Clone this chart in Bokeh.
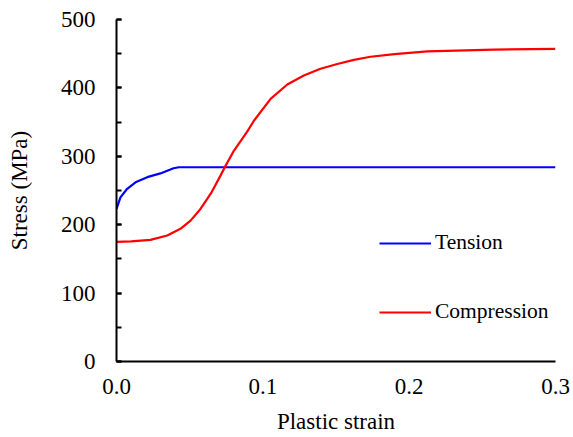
from bokeh.plotting import figure
from bokeh.models import Range1d, Legend, LegendItem, FixedTicker
from bokeh.embed import file_html
from bokeh.resources import INLINE

tension_strain = [0, 0.0027, 0.0073, 0.013, 0.021, 0.030, 0.039, 0.0426, 0.05, 0.1, 0.2, 0.3]
tension_stress = [223, 240, 252.5, 262, 269.5, 275, 282.5, 284, 284, 284, 284, 284]

comp_strain = [0, 0.01, 0.0232, 0.0347, 0.0437, 0.0506, 0.0574, 0.0643, 0.0699, 0.0745,
               0.0802, 0.0893, 0.0939, 0.1053, 0.1167, 0.128, 0.1394, 0.1509, 0.1622,
               0.1736, 0.19, 0.2124, 0.258, 0.3]
comp_stress = [175, 175.5, 177.9, 184.2, 194, 206, 223, 245, 267, 286,
               308, 336, 352, 384, 405, 418, 428, 435, 441,
               445.5, 449.5, 453.5, 456, 457]

x_ticks = [0, 0.1, 0.2, 0.3]
x_tick_labels = {0: "0.0", 0.1: "0.1", 0.2: "0.2", 0.3: "0.3"}
y_ticks = [0, 100, 200, 300, 400, 500]
y_minor = [0, 50, 100, 150, 200, 250, 300, 350, 400, 450, 500]

FONT = "Liberation Serif"
FS = "23px"
LEGEND_FS = "21.5px"

p = figure(width=573, height=437, output_backend="svg", toolbar_location=None,
           x_range=Range1d(0, 0.3), y_range=Range1d(0, 500),
           min_border_left=116, min_border_right=18, min_border_top=19, min_border_bottom=76)
p.outline_line_color = None
p.grid.visible = False
p.background_fill_color = "white"
p.border_fill_color = "white"

r1 = p.line(tension_strain, tension_stress, line_color="#0000FF", line_width=2.2, line_join="round")
r2 = p.line(comp_strain, comp_stress, line_color="#FF0000", line_width=2.2, line_join="round")

xa = p.xaxis[0]
xa.ticker = FixedTicker(ticks=x_ticks)
xa.major_label_overrides = x_tick_labels
xa.major_tick_in = 0
xa.major_tick_out = 0
xa.minor_tick_in = 0
xa.minor_tick_out = 0
xa.axis_line_width = 2
xa.axis_line_color = "black"
xa.major_label_text_font = FONT
xa.major_label_text_font_size = FS
xa.major_label_text_color = "black"
xa.major_label_standoff = 17
xa.axis_label = "Plastic strain"
xa.axis_label_text_font = FONT
xa.axis_label_text_font_size = FS
xa.axis_label_text_font_style = "normal"
xa.axis_label_text_color = "black"
xa.axis_label_standoff = 12

ya = p.yaxis[0]
ya.ticker = FixedTicker(ticks=y_ticks, minor_ticks=y_minor)
ya.major_tick_in = 5
ya.major_tick_out = 0
ya.minor_tick_in = 5
ya.minor_tick_out = 0
ya.major_tick_line_width = 2
ya.minor_tick_line_width = 2
ya.axis_line_width = 2
ya.axis_line_color = "black"
ya.major_label_text_font = FONT
ya.major_label_text_font_size = FS
ya.major_label_text_color = "black"
ya.major_label_standoff = 21
ya.axis_label = "Stress (MPa)"
ya.axis_label_text_font = FONT
ya.axis_label_text_font_size = FS
ya.axis_label_text_font_style = "normal"
ya.axis_label_text_color = "black"
ya.axis_label_standoff = 26

legend = Legend(items=[LegendItem(label="Tension", renderers=[r1]),
                       LegendItem(label="Compression", renderers=[r2])],
                location=(263, 37), orientation="vertical")
legend.background_fill_alpha = 0
legend.border_line_color = None
legend.padding = 0
legend.margin = 0
legend.spacing = 44
legend.glyph_width = 52
legend.glyph_height = 20
legend.label_height = 20
legend.label_standoff = 4
legend.label_text_font = FONT
legend.label_text_font_size = LEGEND_FS
legend.label_text_color = "black"
p.add_layout(legend, "center")

open("out.html", "w").write(file_html(p, INLINE))
